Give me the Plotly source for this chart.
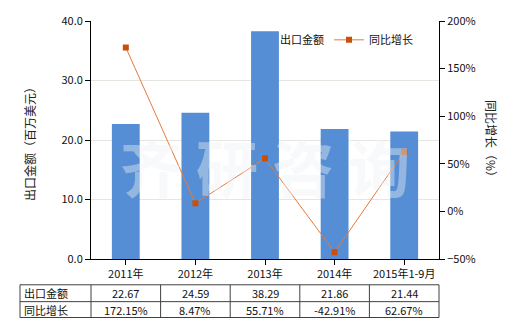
import plotly.graph_objects as go

categories = ["2011年", "2012年", "2013年", "2014年", "2015年1-9月"]
export_values = [22.67, 24.59, 38.29, 21.86, 21.44]
growth_values = [172.15, 8.47, 55.71, -42.91, 62.67]
row_labels = ["出口金额", "同比增长"]

FONT = "Noto Sans CJK SC"
L, R, T, B = 91, 81, 19, 71
W, H = 520, 330
PW = W - L - R
PH = H - T - B

def px2x(px):
    return (px - L) / PW

def py2y(py):
    return (H - B - py) / PH

fig = go.Figure()
fig.add_trace(go.Bar(
    x=categories, y=export_values, name="出口金额",
    marker=dict(color="#558ED5", line=dict(width=0)), width=0.4,
    yaxis="y",
))
fig.add_trace(go.Scatter(
    x=categories, y=growth_values, name="同比增长",
    mode="lines+markers",
    line=dict(color="#E8793A", width=1),
    marker=dict(symbol="square", size=6, color="#C8500A"),
    yaxis="y2",
))

annotations = []
shapes = []

# watermark
annotations.append(dict(
    text="<b>齐 研 咨 询</b>", x=0.5, y=py2y(165), xref="paper", yref="paper",
    xanchor="center", yanchor="middle",
    showarrow=False, font=dict(family=FONT, size=62, color="rgba(235,240,245,0.42)"),
))

# axis titles
annotations.append(dict(
    text="出口金额（百万美元）", x=px2x(30), y=py2y(140), xref="paper", yref="paper",
    xanchor="center", yanchor="middle",
    showarrow=False, textangle=-90, font=dict(family=FONT, size=12, color="#222"),
))
annotations.append(dict(
    text="同比增长（%）", x=px2x(491), y=py2y(140), xref="paper", yref="paper",
    xanchor="center", yanchor="middle",
    showarrow=False, textangle=90, font=dict(family=FONT, size=12, color="#222"),
))

# table
tbl_left, tbl_right = 20, L + PW
row_y = [285, 302, 318]
for yy in row_y:
    shapes.append(dict(type="line", xref="paper", yref="paper",
                       x0=px2x(tbl_left), x1=px2x(tbl_right), y0=py2y(yy), y1=py2y(yy),
                       line=dict(color="#404040", width=1)))
col_x = [tbl_left] + [L + PW * k / len(categories) for k in range(len(categories) + 1)]
for xx in col_x:
    shapes.append(dict(type="line", xref="paper", yref="paper",
                       x0=px2x(xx), x1=px2x(xx), y0=py2y(row_y[0]), y1=py2y(row_y[-1]),
                       line=dict(color="#404040", width=1)))
row_centers = [(row_y[0] + row_y[1]) / 2, (row_y[1] + row_y[2]) / 2]
for lbl, yc in zip(row_labels, row_centers):
    annotations.append(dict(text=lbl, x=px2x(tbl_left + 2), y=py2y(yc), xref="paper", yref="paper",
                            xanchor="left", yanchor="middle", showarrow=False,
                            font=dict(family=FONT, size=11, color="#111")))
for c, v, g in zip(categories, export_values, growth_values):
    annotations.append(dict(text=f"{v:.2f}", x=c, y=py2y(row_centers[0]), xref="x", yref="paper",
                            xanchor="center", yanchor="middle",
                            showarrow=False, font=dict(family=FONT, size=11, color="#111")))
    annotations.append(dict(text=f"{g:.2f}%", x=c, y=py2y(row_centers[1]), xref="x", yref="paper",
                            xanchor="center", yanchor="middle",
                            showarrow=False, font=dict(family=FONT, size=11, color="#111")))

fig.update_layout(
    width=W, height=H,
    margin=dict(l=L, r=R, t=T, b=B),
    paper_bgcolor="white", plot_bgcolor="white",
    font=dict(family=FONT, size=11, color="#111"),
    showlegend=True,
    legend=dict(orientation="h", x=px2x(240), y=py2y(38), xanchor="left", yanchor="middle",
                bgcolor="rgba(0,0,0,0)", font=dict(family=FONT, size=11, color="#111"),
                itemwidth=30, tracegroupgap=0),
    xaxis=dict(type="category", range=[-0.5, 4.5], showline=True, linecolor="black",
               ticks="outside", ticklen=5, tickcolor="black", showgrid=False,
               tickfont=dict(family=FONT, size=11, color="#111")),
    yaxis=dict(range=[0, 40], dtick=10, tickformat=".1f", showline=True, linecolor="black",
               ticks="outside", ticklen=5, tickcolor="black",
               showgrid=True, gridcolor="#E6E6E0", gridwidth=1, zeroline=False,
               tickfont=dict(family=FONT, size=11, color="#111")),
    yaxis2=dict(range=[-50, 200], dtick=50, ticksuffix="%", overlaying="y", side="right",
                showline=True, linecolor="black", ticks="outside", ticklen=5, tickcolor="black",
                showgrid=False, zeroline=False,
                tickfont=dict(family=FONT, size=11, color="#111")),
    annotations=annotations,
    shapes=shapes,
    bargap=0.6,
)

fig.write_html("out.html")
